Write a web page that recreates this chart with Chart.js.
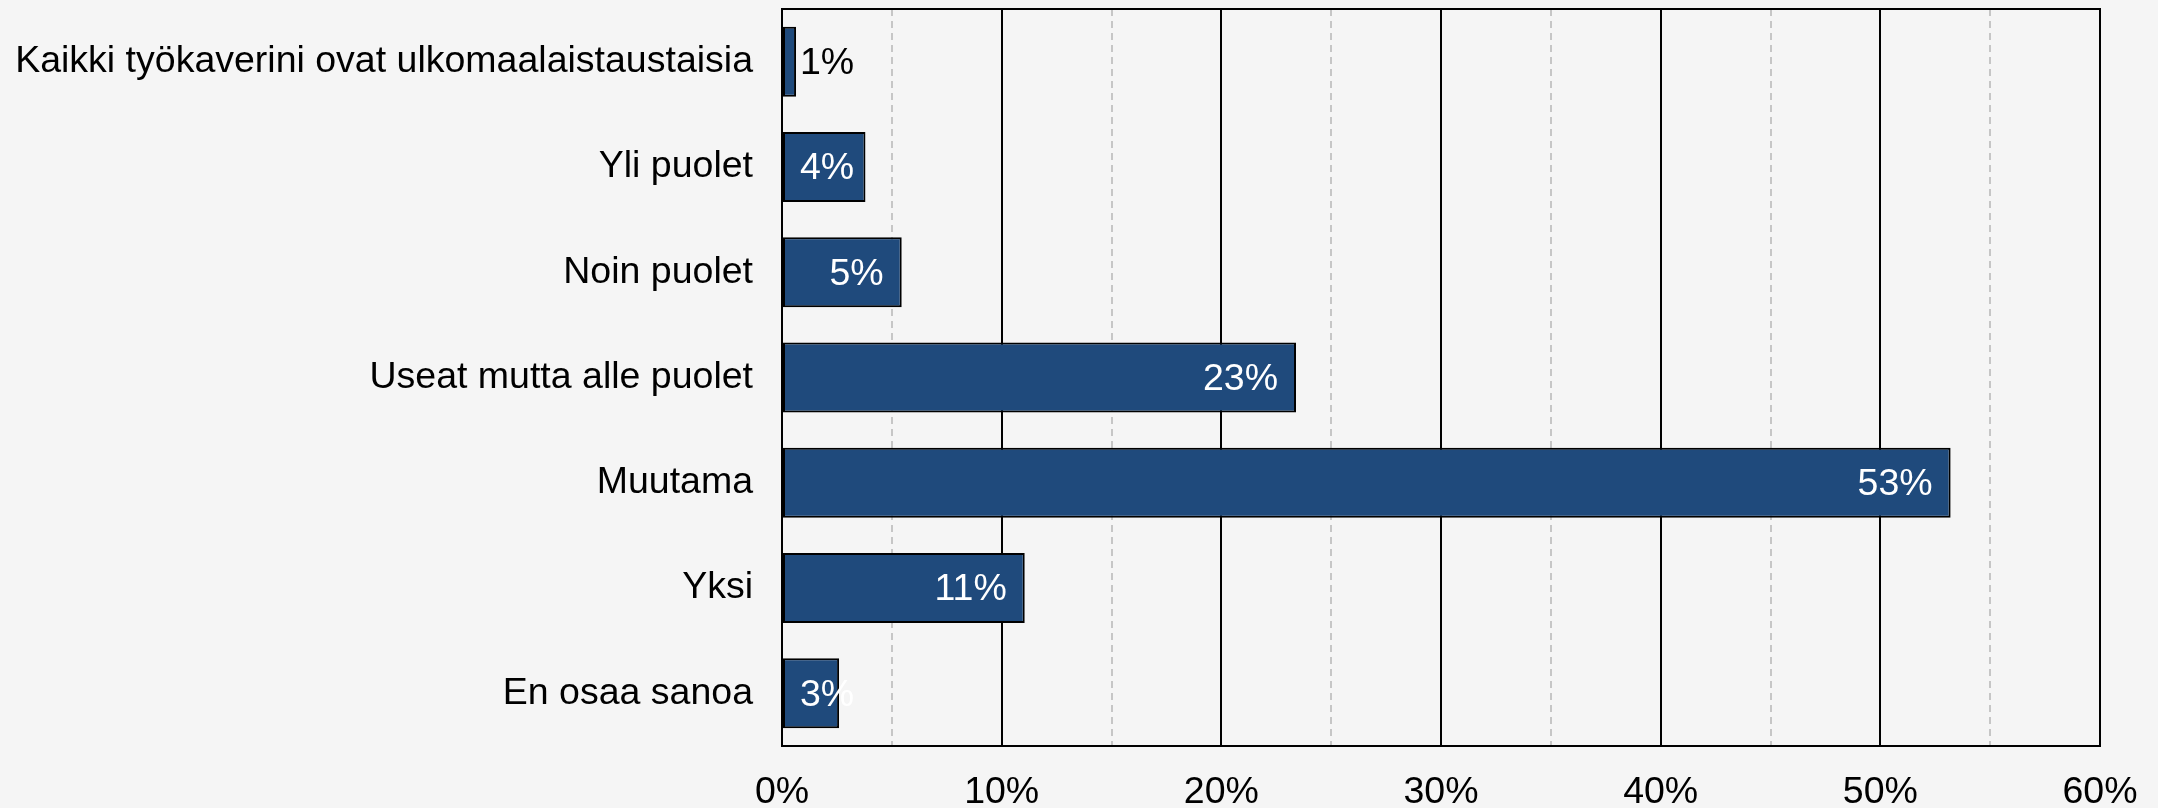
<!DOCTYPE html>
<html>
<head>
<meta charset="utf-8">
<script src="https://cdn.jsdelivr.net/npm/chart.js"></script>
<style>
  body { margin: 0; background: #f5f5f5; }
  #wrap { width: 2158px; height: 808px; }
</style>
</head>
<body>
<div id="wrap"><canvas id="myChart" width="2158" height="808"></canvas></div>
<script>
// dati
var categories = ['Kaikki työkaverini ovat ulkomaalaistaustaisia', 'Yli puolet', 'Noin puolet', 'Useat mutta alle puolet', 'Muutama', 'Yksi', 'En osaa sanoa'];
var values = [0.64, 3.8, 5.45, 23.4, 53.2, 11.05, 2.6];
var tickValues = [0, 10, 20, 30, 40, 50, 60];

var fontName = '"Liberation Sans", Arial, sans-serif';
var fontSize = 37.5;

//etichette con la percentuale dentro la barra (o fuori se troppo corta)
var barLabels = {
  id: 'barLabels',
  afterDatasetsDraw: function (chart) {
    var ctx = chart.ctx;
    var meta = chart.getDatasetMeta(0);
    ctx.save();
    ctx.font = fontSize + 'px ' + fontName;
    ctx.textBaseline = 'middle';
    ctx.textAlign = 'left';
    for (var i = 0; i < meta.data.length; i++) {
      var el = meta.data[i];
      var txt = Math.round(values[i]) + '%';
      var w = ctx.measureText(txt).width;
      var x = Math.max(el.x - 18 - w, el.base + 17);
      ctx.fillStyle = x < el.x ? '#ffffff' : '#000000';
      ctx.fillText(txt, x, el.y + 2);
    }
    ctx.restore();
  }
};

//cornice intorno all'area del grafico
var frame = {
  id: 'frame',
  afterDatasetsDraw: function (chart) {
    var a = chart.chartArea;
    var ctx = chart.ctx;
    ctx.save();
    ctx.strokeStyle = '#000000';
    ctx.lineWidth = 2;
    ctx.strokeRect(a.left, a.top, a.right - a.left, a.bottom - a.top);
    ctx.restore();
  }
};

function isMajor(c) {
  return c.tick && tickValues.indexOf(c.tick.value) !== -1;
}

function chart() {
  var ctx = document.getElementById('myChart').getContext('2d');
  var myChart = new Chart(ctx, {
    type: 'bar',
    data: {
      labels: categories,
      datasets: [{
        data: values,
        backgroundColor: '#1f4a7c',
        borderColor: '#000000',
        borderWidth: 2,
        borderSkipped: false,
        barPercentage: 0.665,
        categoryPercentage: 1
      }]
    },
    options: {
      indexAxis: 'y',
      responsive: false,
      animation: false,
      layout: { padding: { top: 9, right: 58, left: 0, bottom: 0 } },
      plugins: { legend: { display: false }, tooltip: { enabled: false } },
      scales: {
        x: {
          min: 0,
          max: 60,
          afterFit: function (scale) {
            scale.height = 62;
            scale.paddingLeft = 0;
            scale.paddingRight = 0;
          },
          ticks: {
            stepSize: 5,
            autoSkip: false,
            maxRotation: 0,
            padding: 24,
            color: '#000000',
            font: { family: fontName, size: fontSize },
            callback: function (v) { return tickValues.indexOf(v) !== -1 ? v + '%' : ''; }
          },
          grid: {
            drawTicks: false,
            lineWidth: 2,
            color: function (c) { return isMajor(c) ? '#000000' : '#c6c6c6'; }
          },
          border: {
            display: false,
            dash: function (c) { return c.tick && !isMajor(c) ? [7, 5] : []; }
          }
        },
        y: {
          afterFit: function (scale) {
            scale.width = 782;
            scale.paddingTop = 0;
            scale.paddingBottom = 0;
          },
          ticks: {
            padding: 29,
            color: '#000000',
            font: { family: fontName, size: fontSize }
          },
          grid: { display: false, drawTicks: false },
          border: { display: false }
        }
      }
    },
    plugins: [barLabels, frame]
  });
}

chart();
</script>
</body>
</html>
